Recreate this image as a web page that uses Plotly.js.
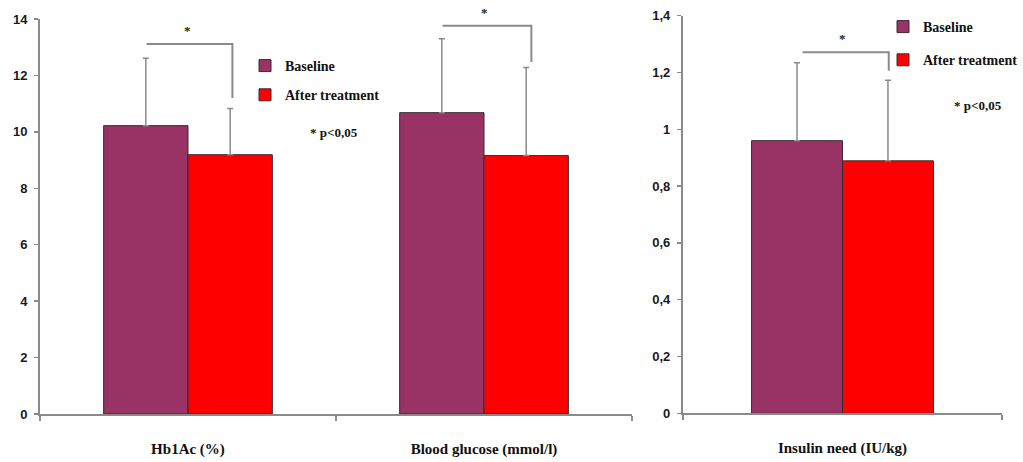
<!DOCTYPE html>
<html><head><meta charset="utf-8">
<script src="https://cdn.plot.ly/plotly-3.0.1.min.js"></script>
<style>html,body{margin:0;padding:0;background:#fff;}#chart{width:1023px;height:462px;}</style>
</head><body><div id="chart"></div>
<script>
// ---- data ----
const seriesNames = ['Baseline', 'After treatment'];
const leftCategories = ['Hb1Ac (%)', 'Blood glucose (mmol/l)'];
const leftBaseline = [10.22, 10.68];
const leftBaselineSD = [2.39, 2.62];
const leftAfter = [9.19, 9.16];
const leftAfterSD = [1.64, 3.12];
const rightCategories = ['Insulin need (IU/kg)'];
const rightBaseline = [0.96];
const rightBaselineSD = [0.274];
const rightAfter = [0.889];
const rightAfterSD = [0.284];
const leftTickVals = [0, 2, 4, 6, 8, 10, 12, 14];
const rightTickVals = [0, 0.2, 0.4, 0.6, 0.8, 1, 1.2, 1.4];
const rightTickText = ['0', '0,2', '0,4', '0,6', '0,8', '1', '1,2', '1,4'];
const sigMark = '*';
const pNote = '* p<0,05';

// ---- style ----
const colors = ['#993366', '#ff0000'];
const serif = 'Liberation Serif, Times New Roman, serif';
const sans = 'Liberation Sans, Arial, sans-serif';
const grey = '#8a8a8a';

function barTrace(name, x, y, err, color, xa, ya, legend, group) {
  return {
    type: 'bar', name: name, x: x, y: y, xaxis: xa, yaxis: ya,
    legend: legend, legendgroup: group, showlegend: true,
    marker: {color: color, line: {color: '#3b2b30', width: 1}},
    error_y: {type: 'data', symmetric: false, array: err, arrayminus: err.map(() => 0),
              color: grey, thickness: 1.5, width: 3},
    hoverinfo: 'skip'
  };
}

const data = [
  barTrace(seriesNames[0], leftCategories, leftBaseline, leftBaselineSD, colors[0], 'x', 'y', 'legend', 'a'),
  barTrace(seriesNames[1], leftCategories, leftAfter, leftAfterSD, colors[1], 'x', 'y', 'legend', 'b'),
  barTrace(seriesNames[0], rightCategories, rightBaseline, rightBaselineSD, colors[0], 'x2', 'y2', 'legend2', 'c'),
  barTrace(seriesNames[1], rightCategories, rightAfter, rightAfterSD, colors[1], 'x2', 'y2', 'legend2', 'd')
];

function xAxis(domain, anchor, n) {
  return {
    domain: domain, anchor: anchor, type: 'category', range: [-0.5, n - 0.5],
    showline: true, linecolor: grey, linewidth: 2,
    ticks: 'outside', tickson: 'boundaries', ticklen: 5, tickcolor: grey, tickwidth: 1.5,
    tickfont: {family: serif, size: 15, weight: 'bold', color: '#111'},
    ticklabelstandoff: 20, showgrid: false, zeroline: false, fixedrange: true
  };
}
function yAxis(domain, anchor, range, vals, text) {
  const a = {
    domain: domain, anchor: anchor, range: range, tickvals: vals,
    showline: true, linecolor: grey, linewidth: 2,
    ticks: 'outside', ticklen: 4, tickcolor: grey, tickwidth: 1.5,
    tickfont: {family: sans, size: 13, weight: 'bold', color: '#1a1a1a'},
    ticklabelstandoff: 4, showgrid: false, zeroline: false, fixedrange: true
  };
  if (text) a.ticktext = text;
  return a;
}

const bracketLine = {color: grey, width: 2};
const starFont = {family: serif, size: 13, weight: 'bold', color: '#222'};
const noteFont = {family: serif, size: 13, weight: 'bold', color: '#111'};
const layout = {
  width: 1023, height: 462,
  margin: {l: 0, r: 0, t: 0, b: 0, autoexpand: false},
  paper_bgcolor: '#ffffff', plot_bgcolor: 'rgba(0,0,0,0)',
  barmode: 'group', bargap: 0.43, bargroupgap: 0,
  xaxis: xAxis([0.0391, 0.6178], 'y', leftCategories.length),
  yaxis: yAxis([0.1039, 0.9589], 'x', [0, 14], leftTickVals),
  xaxis2: xAxis([0.6676, 0.9795], 'y2', rightCategories.length),
  yaxis2: yAxis([0.1054, 0.966], 'x2', [0, 1.4], rightTickVals, rightTickText),
  legend: {x: 245 / 1023, y: 1 - 50 / 462, xanchor: 'left', yanchor: 'top',
           traceorder: 'grouped', tracegroupgap: 8, itemwidth: 30,
           bgcolor: 'rgba(0,0,0,0)', font: {family: serif, size: 14, weight: 'bold', color: '#111'}},
  legend2: {x: 883 / 1023, y: 1 - 11 / 462, xanchor: 'left', yanchor: 'top',
           traceorder: 'grouped', tracegroupgap: 12, itemwidth: 30,
           bgcolor: 'rgba(0,0,0,0)', font: {family: serif, size: 14, weight: 'bold', color: '#111'}},
  shapes: [
    {type: 'path', xref: 'x', yref: 'y', path: 'M -0.14,13.11 L 0.15,13.11 L 0.15,11.2', line: bracketLine},
    {type: 'path', xref: 'x', yref: 'y', path: 'M 0.86,13.76 L 1.16,13.76 L 1.16,12.48', line: bracketLine},
    {type: 'path', xref: 'x2', yref: 'y2', path: 'M -0.125,1.271 L 0.145,1.271 L 0.145,1.206', line: bracketLine}
  ],
  annotations: [
    {xref: 'x', yref: 'y', x: 0, y: 13.58, text: sigMark, showarrow: false, font: starFont},
    {xref: 'x', yref: 'paper', x: 1.0, y: 1 - 13 / 462, yanchor: 'middle', text: sigMark, showarrow: false, font: starFont},
    {xref: 'x2', yref: 'y2', x: 0, y: 1.318, text: sigMark, showarrow: false, font: starFont},
    {xref: 'paper', yref: 'paper', x: 334 / 1023, y: 1 - 132 / 462, xanchor: 'center', yanchor: 'middle',
     text: pNote, showarrow: false, font: noteFont},
    {xref: 'paper', yref: 'paper', x: 978 / 1023, y: 1 - 105 / 462, xanchor: 'center', yanchor: 'middle',
     text: pNote, showarrow: false, font: noteFont}
  ]
};

Plotly.newPlot('chart', data, layout, {displayModeBar: false, staticPlot: true});
</script>
</body></html>
